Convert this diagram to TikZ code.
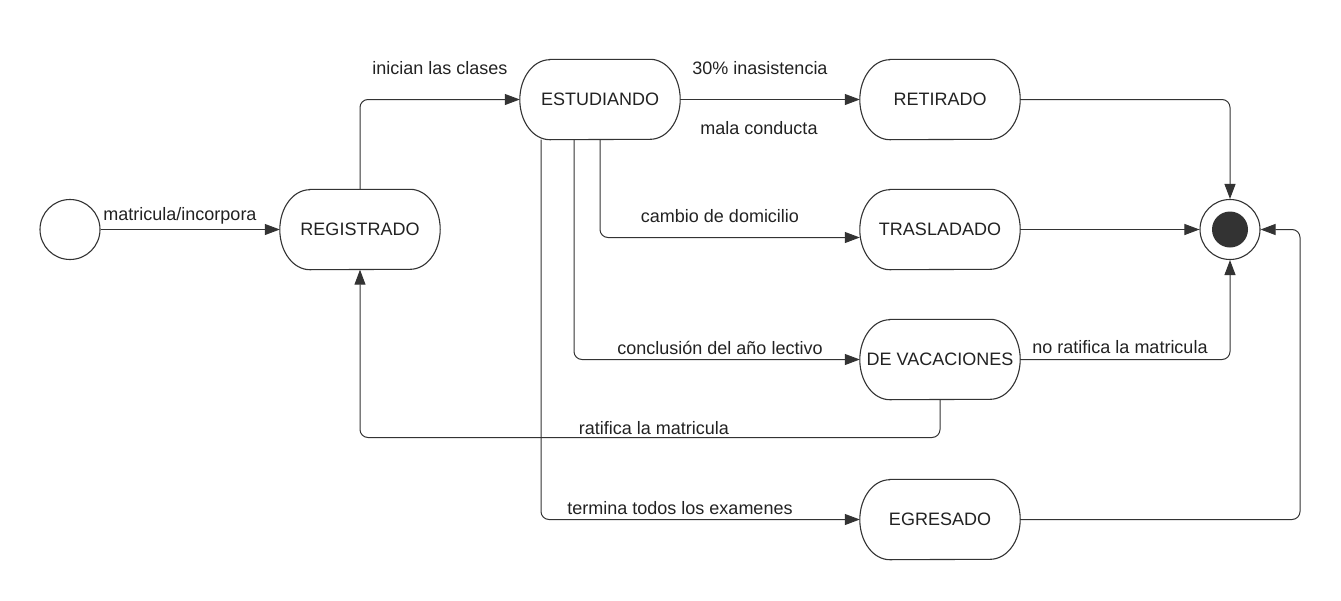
\documentclass[tikz,border=0pt]{standalone}
\usepackage{fontspec}
\setmainfont{Liberation Sans}
\usetikzlibrary{arrows.meta,calc}
\definecolor{ink}{HTML}{333333}
\definecolor{txt}{HTML}{222222}
\tikzset{
  statebox/.style={draw=none, minimum width=160pt, minimum height=80pt, inner sep=0pt, text=txt,
    font=\fontsize{18}{21}\selectfont},
  outline/.style={draw=ink, line width=1.1pt, fill=white},
  lab/.style={text=txt, font=\fontsize{18}{21}\selectfont, inner sep=0pt},
  conn/.style={draw=ink, line width=1pt, rounded corners=8pt,
    -{Triangle[length=15pt,width=11pt]}},
}
\newcommand{\stateoutline}[1]{%
  \draw[outline] ([xshift=30pt]#1.north west) -- ([xshift=-30pt]#1.north east)
    arc[start angle=90,end angle=-90,x radius=30pt,y radius=40pt]
    -- ([xshift=30pt]#1.south west)
    arc[start angle=270,end angle=90,x radius=30pt,y radius=40pt] -- cycle;}
\begin{document}
\begin{tikzpicture}[x=1pt,y=-1pt]
\useasboundingbox (0,0) rectangle (1341,600);
% states
\node[draw=ink, line width=1.1pt, circle, minimum size=60pt, inner sep=0pt] (start) at (70,229.5) {};
\node[statebox] (reg) at (360,229.5) {};
\node[statebox] (est) at (600,99.5) {};
\node[statebox] (ret) at (940,99.5) {};
\node[statebox] (tra) at (940,229.5) {};
\node[statebox] (vac) at (940,359.5) {};
\node[statebox] (egr) at (940,519.5) {};
\foreach \n in {reg,est,ret,tra,vac,egr} {\stateoutline{\n}}
\node[lab] at (reg) {REGISTRADO};
\node[lab] at (est) {ESTUDIANDO};
\node[lab] at (ret) {RETIRADO};
\node[lab] at (tra) {TRASLADADO};
\node[lab] at (vac) {DE VACACIONES};
\node[lab] at (egr) {EGRESADO};
\node[draw=ink, line width=1.1pt, circle, minimum size=60pt, inner sep=0pt] (fin) at (1230,229.5) {};
\node[fill=ink, circle, minimum size=36pt, inner sep=0pt] (finin) at (fin.center) {};
% connectors
\draw[conn] (start.east) -- (reg.west);
\draw[conn] (reg.north) |- (est.west);
\draw[conn] (est.east) -- (ret.west);
\draw[conn] (est.south) |- ([yshift=-8pt]tra.west);
\draw[conn] ([xshift=-26pt]est.south) |- (vac.west);
\draw[conn] ([xshift=-59pt]est.south) |- (egr.west);
\draw[conn] (vac.east) -| (fin.south);
\draw[conn] (vac.south) |- (360,437.5) -- (reg.south);
\draw[conn] (ret.east) -| (fin.north);
\draw[conn] (tra.east) -- (fin.west);
\draw[conn] (egr.east) -| (1300,229.5) -- (fin.east);
% labels
\node[lab] (l1) at (180,216) {matricula/incorpora};
\node[lab] (l2) at (440,68) {inician las clases};
\node[lab] (l3) at (760,68) {30\% inasistencia};
\node[lab] (l4) at (759,128) {mala conducta};
\node[lab] (l5) at (720,216) {cambio de domicilio};
\node[lab] (l6) at (720,348) {conclusión del año lectivo};
\node[lab] (l7) at (1120,347) {no ratifica la matricula};
\node[lab] (l8) at (654,428) {ratifica la matricula};
\node[lab] (l9) at (680,508) {termina todos los examenes};
\end{tikzpicture}
\end{document}
